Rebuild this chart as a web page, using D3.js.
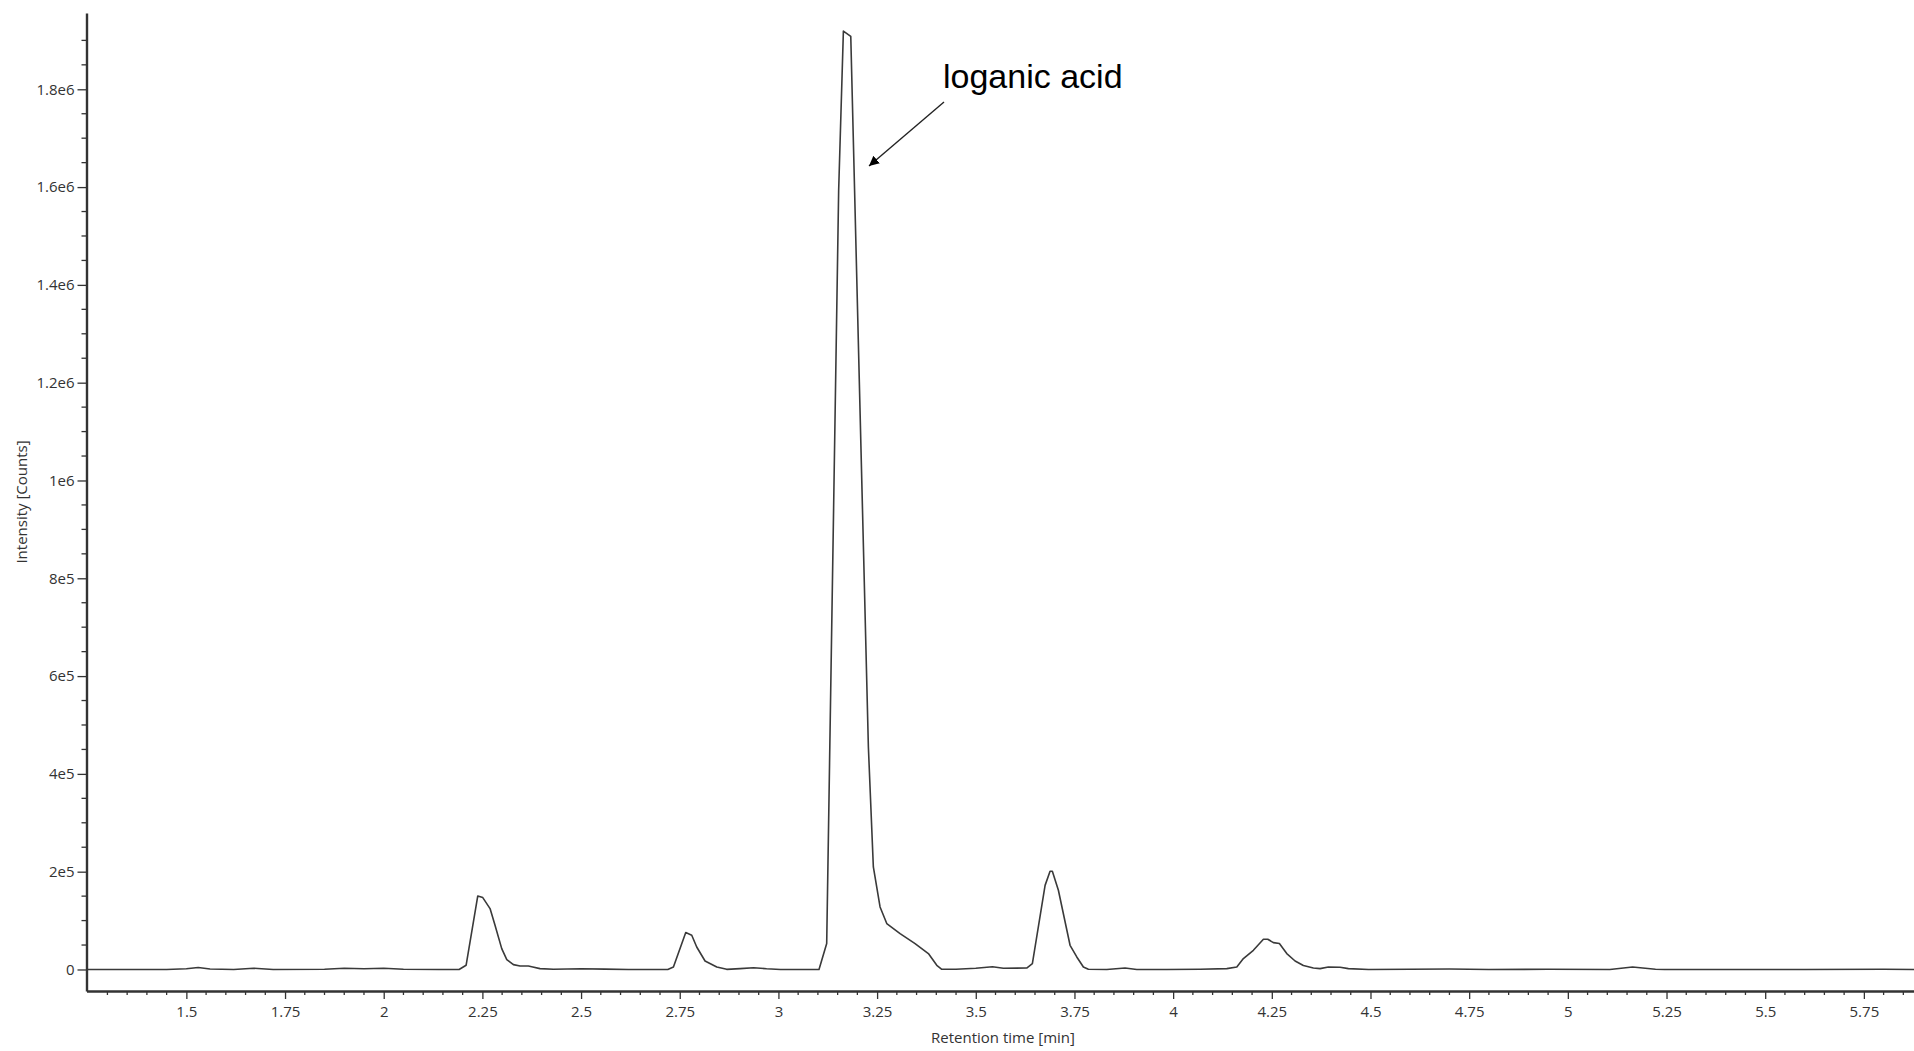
<!DOCTYPE html>
<html>
<head>
<meta charset="utf-8">
<script src="https://cdn.jsdelivr.net/npm/d3@7"></script>
<style>
	body { margin: 0; background: #fff; }
	svg { display: block; }
	.tick-label { font-family: "Open Sans", sans-serif; font-size: 15px; fill: #333; }
</style>
</head>
<body>
<svg id="chart" width="1914" height="1051"></svg>
<script>
// chromatogram: retention time [min] / intensity [counts]
var times = [
	1.247, 1.30, 1.45, 1.50, 1.53, 1.56, 1.62, 1.67, 1.72, 1.85, 1.90, 1.95, 2.00, 2.05, 2.14, 2.191,
	2.2087, 2.2383, 2.251, 2.2694, 2.282, 2.299, 2.3118, 2.3285, 2.3455, 2.3665, 2.3777, 2.396, 2.43,
	2.50, 2.56, 2.62, 2.7197, 2.734, 2.7652, 2.7804, 2.793, 2.8141, 2.8438, 2.869, 2.9028, 2.937, 2.97,
	3.0052, 3.1028, 3.1223, 3.1526, 3.1646, 3.1833, 3.2279, 3.2405, 3.2575, 3.2745, 3.3082, 3.3462,
	3.3799, 3.4012, 3.4139, 3.45, 3.50, 3.5423, 3.57, 3.629, 3.6434, 3.6756, 3.6882, 3.694, 3.7093,
	3.7389, 3.7559, 3.7726, 3.7853, 3.8319, 3.8782, 3.9079, 3.984, 4.0684, 4.136, 4.1613, 4.178, 4.2033,
	4.2287, 4.2398, 4.254, 4.2692, 4.2879, 4.309, 4.33, 4.3553, 4.3723, 4.3933, 4.423, 4.444, 4.4952,
	4.60, 4.70, 4.80, 4.95, 5.1065, 5.164, 5.222, 5.245, 5.40, 5.60, 5.80, 5.877
]
var intensities = [
	0, 0, 0, 1500, 4000, 1000, 0, 2500, 0, 500, 2500, 1500, 2500, 500, 0, 0,
	8600, 150300, 147000, 124500, 90400, 42700, 20200, 10000, 7200, 7200, 5100, 1800, 400,
	1500, 800, 0, 0, 5100, 75500, 70000, 46000, 17400, 5100, 300, 1800, 3500, 1500,
	0, 0, 53000, 1593000, 1919000, 1908000, 455000, 209600, 127800, 93900, 73400, 53000,
	32500, 8600, 400, 500, 2500, 5500, 2500, 3000, 12000, 172000, 200800, 200800, 162000,
	49500, 25600, 5100, 400, 0, 3000, 0, 0, 500, 1800, 5100, 22300, 39300,
	61800, 61800, 55000, 53000, 32500, 17400, 8000, 3000, 1800, 5100, 4700, 1800, 0,
	500, 1000, 0, 500, 0, 5100, 500, 0, 0, 0, 500, 0
]

var xTicks = [1.5, 1.75, 2, 2.25, 2.5, 2.75, 3, 3.25, 3.5, 3.75, 4, 4.25, 4.5, 4.75, 5, 5.25, 5.5, 5.75]
var xTickLabels = ["1.5", "1.75", "2", "2.25", "2.5", "2.75", "3", "3.25", "3.5", "3.75", "4", "4.25", "4.5", "4.75", "5", "5.25", "5.5", "5.75"]
var yTicks = [0, 2e5, 4e5, 6e5, 8e5, 1e6, 1.2e6, 1.4e6, 1.6e6, 1.8e6]
var yTickLabels = ["0", "2e5", "4e5", "6e5", "8e5", "1e6", "1.2e6", "1.4e6", "1.6e6", "1.8e6"]

var peakLabel = "loganic acid"
var peakArrowTip = [3.2295, 1.643e6]

var xMinor = d3.range(26, 118).map(i => i * 0.05).filter(t => Math.abs(t * 4 - Math.round(t * 4)) > 1e-6)
var yMinor = d3.range(1, 39).map(i => i * 5e4).filter(v => v % 2e5 != 0)

var svg = d3.select("#chart")

var x = d3.scaleLinear()
.domain([1.247, 5.877])
.range([86.5, 1914])

var y = d3.scaleLinear()
.domain([-44000, 1956000])
.range([991, 13])

svg.append("defs")
.append("marker")
.attr("id", "arrowhead")
.attr("viewBox", "0 0 10 10")
.attr("refX", 10)
.attr("refY", 5)
.attr("markerWidth", 10)
.attr("markerHeight", 10)
.attr("markerUnits", "userSpaceOnUse")
.attr("orient", "auto")
.append("path")
.attr("d", "M0,0 L10,5 L0,10 z")
.attr("fill", "#000")

// the trace
var points = times.map((t, i) => [t, intensities[i]])

svg.append("path")
.datum(points)
.attr("fill", "none")
.attr("stroke", "#3a3a3a")
.attr("stroke-width", 1.6)
.attr("stroke-linejoin", "round")
.attr("d", d3.line().x(d => x(d[0])).y(d => y(d[1])))

// axes
var xAxis = svg.append("g")
.attr("transform", "translate(0,991)")
.call(d3.axisBottom(x)
	.tickValues(xTicks)
	.tickFormat((d, i) => xTickLabels[i])
	.tickSizeInner(8)
	.tickSizeOuter(0)
	.tickPadding(7))

xAxis.selectAll(".minor")
.data(xMinor)
.join("line")
.attr("class", "minor")
.attr("x1", d => x(d))
.attr("x2", d => x(d))
.attr("y2", 4)
.attr("stroke", "#333")
.attr("stroke-width", 1.3)

var yAxis = svg.append("g")
.attr("transform", "translate(86.5,0)")
.call(d3.axisLeft(y)
	.tickValues(yTicks)
	.tickFormat((d, i) => yTickLabels[i])
	.tickSizeInner(9)
	.tickSizeOuter(0)
	.tickPadding(3))

yAxis.selectAll(".minor")
.data(yMinor)
.join("line")
.attr("class", "minor")
.attr("x2", -5)
.attr("y1", d => y(d))
.attr("y2", d => y(d))
.attr("stroke", "#333")
.attr("stroke-width", 1.3)

svg.selectAll(".domain")
.attr("stroke", "#333")
.attr("stroke-width", 2.4)

svg.selectAll(".tick line")
.attr("stroke", "#333")
.attr("stroke-width", 1.3)

svg.selectAll(".tick text")
.attr("class", "tick-label")
.attr("font-family", null)
.attr("font-size", null)
.attr("fill", null)

// axis titles
svg.append("text")
.attr("class", "tick-label")
.attr("x", 1003)
.attr("y", 1043)
.attr("text-anchor", "middle")
.text("Retention time [min]")

svg.append("text")
.attr("class", "tick-label")
.attr("transform", "translate(27,502) rotate(-90)")
.attr("text-anchor", "middle")
.text("Intensity [Counts]")

// peak annotation
svg.append("text")
.attr("x", 943)
.attr("y", 88)
.attr("font-family", "'Liberation Sans', Arial, sans-serif")
.attr("font-size", 34)
.attr("fill", "#000")
.text(peakLabel)

svg.append("line")
.attr("x1", 944)
.attr("y1", 102)
.attr("x2", x(peakArrowTip[0]))
.attr("y2", y(peakArrowTip[1]))
.attr("stroke", "#222")
.attr("stroke-width", 1.4)
.attr("marker-end", "url(#arrowhead)")
</script>
</body>
</html>
